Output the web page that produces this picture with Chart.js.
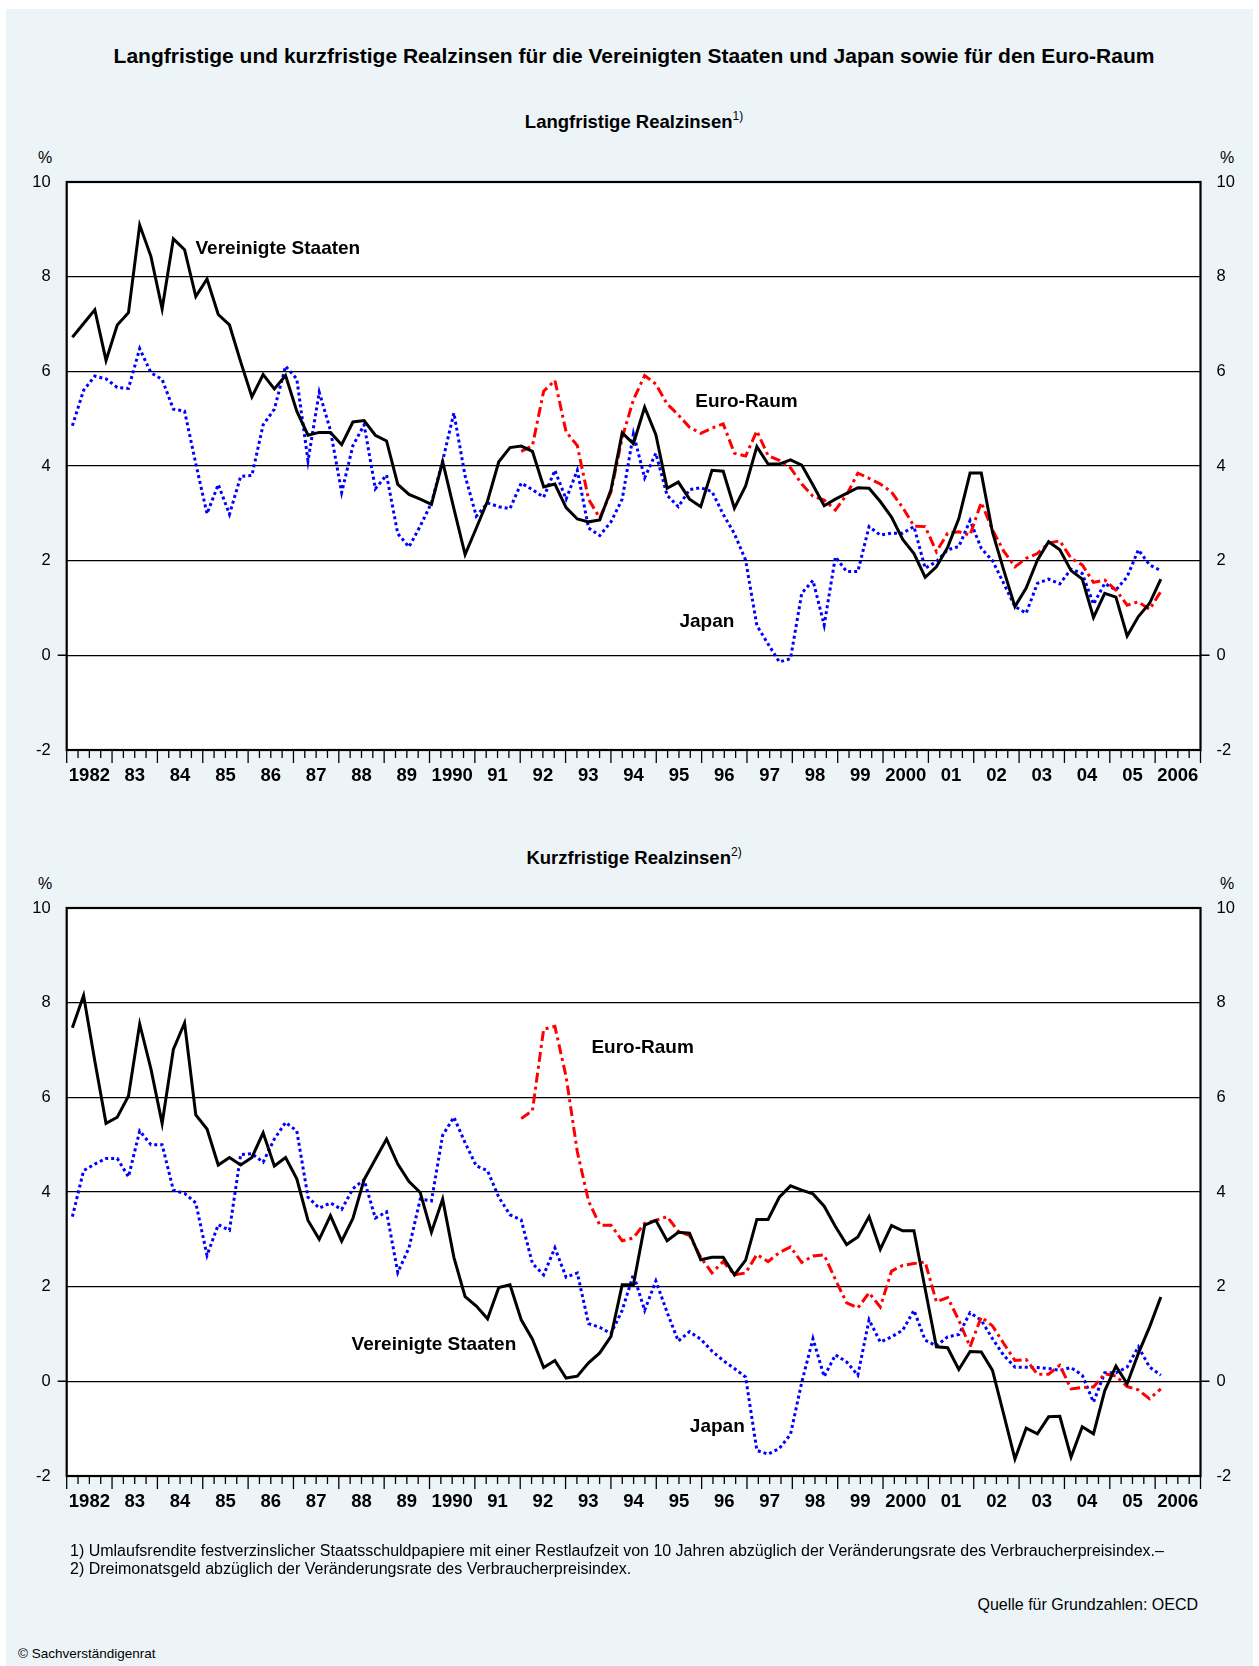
<!DOCTYPE html>
<html lang="de">
<head>
<meta charset="utf-8">
<title>Langfristige und kurzfristige Realzinsen</title>
<script src="https://cdn.jsdelivr.net/npm/chart.js@4.4.1/dist/chart.umd.min.js"></script>
<style>
  html, body { margin: 0; padding: 0; background: #fff; }
  body { font-family: "Liberation Sans", Arial, Helvetica, sans-serif; color: #000; }
  #page { position: relative; width: 1259px; height: 1666px; overflow: hidden; }
  #panel { position: absolute; left: 6px; top: 9px; width: 1247px; height: 1657px; background: #edf4f8; }
  .txt { position: absolute; white-space: nowrap; }
  .head { left: 9px; width: 1250px; text-align: center; font-weight: bold; }
  .sup { font-size: 12px; font-weight: normal; position: relative; top: -8px; }
  .pct { font-size: 16px; width: 20px; text-align: center; line-height: 20px; }
  .note { left: 70px; font-size: 16px; line-height: 18px; }
  canvas { position: absolute; left: 0; }
</style>
</head>
<body>
<div id="page">
  <div id="panel"></div>

  <div class="txt head" style="top:44px;font-size:21px;line-height:24px;">Langfristige und kurzfristige Realzinsen für die Vereinigten Staaten und Japan sowie für den Euro-Raum</div>

  <div class="txt head" style="top:111px;font-size:18.5px;line-height:22px;">Langfristige Realzinsen<span class="sup">1)</span></div>
  <div class="txt pct" style="left:35px;top:148px;">%</div>
  <div class="txt pct" style="left:1217px;top:148px;">%</div>
  <canvas id="longChart" width="1259" height="680" style="top:140px;"></canvas>

  <div class="txt head" style="top:847px;font-size:18.5px;line-height:22px;">Kurzfristige Realzinsen<span class="sup">2)</span></div>
  <div class="txt pct" style="left:35px;top:874px;">%</div>
  <div class="txt pct" style="left:1217px;top:874px;">%</div>
  <canvas id="shortChart" width="1259" height="680" style="top:866px;"></canvas>

  <div class="txt note" style="top:1542px;">1) Umlaufsrendite festverzinslicher Staatsschuldpapiere mit einer Restlaufzeit von 10 Jahren abzüglich der Veränderungsrate des Verbraucherpreisindex.–</div>
  <div class="txt note" style="top:1560px;">2) Dreimonatsgeld abzüglich der Veränderungsrate des Verbraucherpreisindex.</div>
  <div class="txt" style="right:61px;top:1596px;font-size:16px;line-height:18px;">Quelle für Grundzahlen: OECD</div>
  <div class="txt" style="left:18px;top:1646px;font-size:13.5px;line-height:16px;">© Sachverständigenrat</div>
</div>

<script>
// quarters 1982 Q1 .. 2006 Q2
const quarters = [];
for (let y = 1982; y <= 2006; y++) {
    for (let q = 1; q <= 4; q++) {
        if (y === 2006 && q > 2) break;
        quarters.push(y + ' Q' + q);
    }
}

const yearLabels = ['1982', '83', '84', '85', '86', '87', '88', '89', '1990', '91', '92', '93', '94',
    '95', '96', '97', '98', '99', '2000', '01', '02', '03', '04', '05', '2006'];
const yTicks = [-2, 0, 2, 4, 6, 8, 10];

// --- Langfristige Realzinsen (%) ---
const usLong = [
    6.72, 7.01, 7.30, 6.23, 6.98, 7.24, 9.09, 8.43, 7.32, 8.80,
    8.57, 7.58, 7.95, 7.20, 6.98, 6.20, 5.46, 5.93, 5.63, 5.91,
    5.16, 4.65, 4.71, 4.71, 4.45, 4.93, 4.96, 4.65, 4.53, 3.61,
    3.40, 3.30, 3.19, 4.09, 3.10, 2.13, 2.69, 3.26, 4.09, 4.39,
    4.42, 4.31, 3.56, 3.62, 3.12, 2.88, 2.82, 2.86, 3.50, 4.70,
    4.47, 5.24, 4.66, 3.53, 3.66, 3.30, 3.14, 3.91, 3.89, 3.11,
    3.58, 4.41, 4.04, 4.04, 4.13, 4.02, 3.60, 3.16, 3.30, 3.42,
    3.54, 3.53, 3.25, 2.92, 2.45, 2.15, 1.65, 1.87, 2.28, 2.89,
    3.85, 3.85, 2.60, 1.80, 1.03, 1.42, 2.01, 2.40, 2.23, 1.79,
    1.61, 0.80, 1.31, 1.23, 0.41, 0.82, 1.10, 1.61
];
const japanLong = [
    4.85, 5.60, 5.90, 5.84, 5.66, 5.64, 6.48, 5.97, 5.83, 5.20,
    5.16, 4.05, 2.99, 3.61, 2.98, 3.78, 3.80, 4.87, 5.20, 6.11,
    5.84, 4.11, 5.56, 4.75, 3.44, 4.43, 4.87, 3.52, 3.81, 2.57,
    2.29, 2.73, 3.22, 4.11, 5.12, 3.79, 2.94, 3.22, 3.14, 3.10,
    3.64, 3.50, 3.34, 3.91, 3.30, 3.91, 2.69, 2.53, 2.82, 3.30,
    4.68, 3.75, 4.27, 3.38, 3.14, 3.50, 3.54, 3.46, 2.98, 2.57,
    2.01, 0.63, 0.24, -0.14, -0.07, 1.31, 1.58, 0.64, 2.08, 1.77,
    1.77, 2.72, 2.54, 2.58, 2.58, 2.72, 1.84, 1.98, 2.23, 2.30,
    2.85, 2.26, 2.00, 1.52, 1.03, 0.89, 1.52, 1.61, 1.51, 1.82,
    1.73, 1.08, 1.52, 1.38, 1.66, 2.23, 1.91, 1.79
];
// Euro-Raum from 1992 Q1
const euroStart = '1992 Q1';
const euroLong = [
    4.31, 4.43, 5.58, 5.81, 4.72, 4.43, 3.30, 2.90, 3.45, 4.60,
    5.40, 5.91, 5.73, 5.31, 5.08, 4.82, 4.69, 4.80, 4.89, 4.27,
    4.21, 4.74, 4.22, 4.12, 3.96, 3.62, 3.36, 3.28, 3.07, 3.39,
    3.85, 3.74, 3.62, 3.45, 3.12, 2.73, 2.72, 2.19, 2.58, 2.61,
    2.54, 3.23, 2.65, 2.20, 1.87, 2.05, 2.15, 2.37, 2.42, 2.05,
    1.91, 1.54, 1.59, 1.38, 1.06, 1.13, 0.97, 1.35
];

// --- Kurzfristige Realzinsen (%) ---
const usShort = [
    7.47, 8.15, 6.77, 5.45, 5.58, 6.03, 7.55, 6.60, 5.45, 7.01,
    7.57, 5.63, 5.33, 4.57, 4.73, 4.57, 4.73, 5.25, 4.55, 4.73,
    4.28, 3.40, 3.00, 3.50, 2.96, 3.44, 4.26, 4.69, 5.12, 4.59,
    4.22, 3.99, 3.15, 3.85, 2.62, 1.79, 1.59, 1.32, 1.98, 2.04,
    1.30, 0.89, 0.29, 0.44, 0.07, 0.11, 0.39, 0.60, 0.95, 2.04,
    2.04, 3.30, 3.40, 2.97, 3.15, 3.13, 2.57, 2.62, 2.62, 2.25,
    2.56, 3.42, 3.42, 3.89, 4.13, 4.04, 3.96, 3.70, 3.27, 2.89,
    3.05, 3.48, 2.79, 3.29, 3.18, 3.18, 1.95, 0.73, 0.71, 0.25,
    0.63, 0.62, 0.23, -0.70, -1.64, -0.99, -1.11, -0.75, -0.74, -1.60,
    -0.96, -1.11, -0.20, 0.32, -0.05, 0.59, 1.15, 1.78
];
const japanShort = [
    3.48, 4.45, 4.59, 4.71, 4.71, 4.32, 5.29, 5.00, 5.00, 4.04,
    3.97, 3.77, 2.66, 3.31, 3.19, 4.79, 4.81, 4.63, 5.12, 5.47,
    5.29, 3.89, 3.66, 3.77, 3.63, 4.07, 4.26, 3.45, 3.58, 2.30,
    2.82, 3.85, 3.81, 5.20, 5.58, 5.04, 4.55, 4.45, 3.89, 3.52,
    3.41, 2.49, 2.25, 2.82, 2.20, 2.29, 1.22, 1.14, 1.01, 1.50,
    2.26, 1.50, 2.12, 1.46, 0.85, 1.05, 0.89, 0.64, 0.44, 0.27,
    0.09, -1.46, -1.54, -1.42, -1.12, -0.02, 0.90, 0.10, 0.56, 0.41,
    0.13, 1.30, 0.83, 0.94, 1.08, 1.50, 0.87, 0.75, 0.94, 0.99,
    1.45, 1.29, 0.90, 0.55, 0.30, 0.30, 0.29, 0.27, 0.23, 0.29,
    0.13, -0.44, 0.18, 0.18, 0.30, 0.73, 0.30, 0.13
];
const euroShort = [
    5.55, 5.72, 7.44, 7.50, 6.44, 4.85, 3.81, 3.30, 3.30, 2.97,
    3.03, 3.34, 3.40, 3.48, 3.17, 3.08, 2.62, 2.29, 2.53, 2.25,
    2.29, 2.68, 2.53, 2.72, 2.84, 2.51, 2.65, 2.67, 2.15, 1.66,
    1.55, 1.87, 1.57, 2.33, 2.45, 2.49, 2.52, 1.68, 1.77, 1.29,
    0.73, 1.36, 1.17, 0.80, 0.44, 0.46, 0.15, 0.15, 0.34, -0.16,
    -0.13, -0.12, 0.16, 0.11, -0.11, -0.18, -0.37, -0.16
];

// where the series names sit (year, value)
const longNotes = [
    { text: 'Vereinigte Staaten', year: 1984.84, value: 8.59 },
    { text: 'Euro-Raum', year: 1995.86, value: 5.36 },
    { text: 'Japan', year: 1995.51, value: 0.71 }
];
const shortNotes = [
    { text: 'Euro-Raum', year: 1993.57, value: 7.05 },
    { text: 'Vereinigte Staaten', year: 1988.28, value: 0.78 },
    { text: 'Japan', year: 1995.74, value: -0.97 }
];

const FONT = '"Liberation Sans", Arial, Helvetica, sans-serif';
Chart.defaults.font.family = FONT;
Chart.defaults.color = '#000';

// the original spreads the quarterly points evenly from the middle of
// 1982 Q1 to the middle of 2006 Q1 on the year axis
function quarterPos(i) {
    const span = 96 / (quarters.length - 1);
    return 1982 + (0.5 + i * span) / 4;
}

function toPoints(values, offset) {
    return values.map((v, i) => ({ x: quarterPos(i + (offset || 0)), y: v }));
}

const framePlugin = {
    id: 'frame',
    beforeDraw(chart) {
        const { ctx, chartArea: a } = chart;
        ctx.save();
        ctx.fillStyle = '#fff';
        ctx.fillRect(a.left, a.top, a.right - a.left, a.bottom - a.top);
        ctx.restore();
    },
    afterDraw(chart, args, opts) {
        const { ctx, chartArea: a, scales } = chart;
        const xs = scales.x, ys = scales.y;
        ctx.save();
        ctx.strokeStyle = '#000';

        // zero line sticks out a little on both sides
        const y0 = ys.getPixelForValue(0);
        ctx.lineWidth = 1.5;
        ctx.beginPath();
        ctx.moveTo(a.left - 9, y0); ctx.lineTo(a.left, y0);
        ctx.moveTo(a.right, y0); ctx.lineTo(a.right + 9, y0);
        ctx.stroke();

        // quarter ticks below the frame, longer at year starts
        ctx.lineWidth = 1.3;
        for (let q = 0; q <= 100; q++) {
            const px = xs.getPixelForValue(1982 + q / 4);
            ctx.beginPath();
            ctx.moveTo(px, a.bottom);
            ctx.lineTo(px, a.bottom + (q % 4 === 0 ? 13 : 8));
            ctx.stroke();
        }

        ctx.lineWidth = 2.2;
        ctx.strokeRect(a.left, a.top, a.right - a.left, a.bottom - a.top);

        ctx.fillStyle = '#000';
        ctx.font = 'bold 19px ' + FONT;
        ctx.textAlign = 'left';
        ctx.textBaseline = 'middle';
        (opts.notes || []).forEach(n => {
            ctx.fillText(n.text, xs.getPixelForValue(n.year), ys.getPixelForValue(n.value));
        });
        ctx.restore();
    }
};

function yAxis(position, width) {
    return {
        position: position,
        min: -2,
        max: 10,
        afterBuildTicks: axis => { axis.ticks = yTicks.map(v => ({ value: v })); },
        afterFit: axis => { axis.width = width; },
        grid: { display: position === 'left', color: '#000', lineWidth: 1.3, drawTicks: false },
        border: { display: false },
        ticks: { padding: 16, color: '#000', font: { size: 16.5 } }
    };
}

function buildChart(canvasId, us, japan, euro, notes) {
    const ctx = document.getElementById(canvasId).getContext('2d');
    const euroOffset = quarters.indexOf(euroStart);
    return new Chart(ctx, {
        type: 'line',
        data: {
            datasets: [
                {
                    label: 'Vereinigte Staaten',
                    data: toPoints(us),
                    borderColor: '#000000',
                    borderWidth: 3
                },
                {
                    label: 'Euro-Raum',
                    data: toPoints(euro, euroOffset),
                    borderColor: '#ff0000',
                    borderWidth: 3,
                    borderDash: [10, 4, 3, 4]
                },
                {
                    label: 'Japan',
                    data: toPoints(japan),
                    borderColor: '#0000ff',
                    borderWidth: 3,
                    borderDash: [3, 3]
                }
            ]
        },
        options: {
            responsive: false,
            animation: false,
            devicePixelRatio: 1,
            layout: { padding: { top: 42, left: 0, right: 0, bottom: 0 } },
            elements: {
                point: { radius: 0, hoverRadius: 0 },
                line: { tension: 0, fill: false, borderJoinStyle: 'miter', borderCapStyle: 'butt' }
            },
            plugins: {
                legend: { display: false },
                tooltip: { enabled: false },
                frame: { notes: notes }
            },
            scales: {
                x: {
                    type: 'linear',
                    min: 1982,
                    max: 2007,
                    afterBuildTicks: axis => {
                        axis.ticks = yearLabels.map((l, i) => ({ value: 1982.5 + i }));
                    },
                    afterFit: axis => { axis.height = 70; },
                    grid: { display: false, drawTicks: false },
                    border: { display: false },
                    ticks: {
                        autoSkip: false,
                        maxRotation: 0,
                        minRotation: 0,
                        padding: 14.5,
                        color: '#000',
                        font: { size: 18.5, weight: 'bold' },
                        callback: (value, index) => yearLabels[index]
                    }
                },
                y: yAxis('left', 66.7),
                y2: yAxis('right', 58.5)
            }
        },
        plugins: [framePlugin]
    });
}

buildChart('longChart', usLong, japanLong, euroLong, longNotes);
buildChart('shortChart', usShort, japanShort, euroShort, shortNotes);
</script>
</body>
</html>
